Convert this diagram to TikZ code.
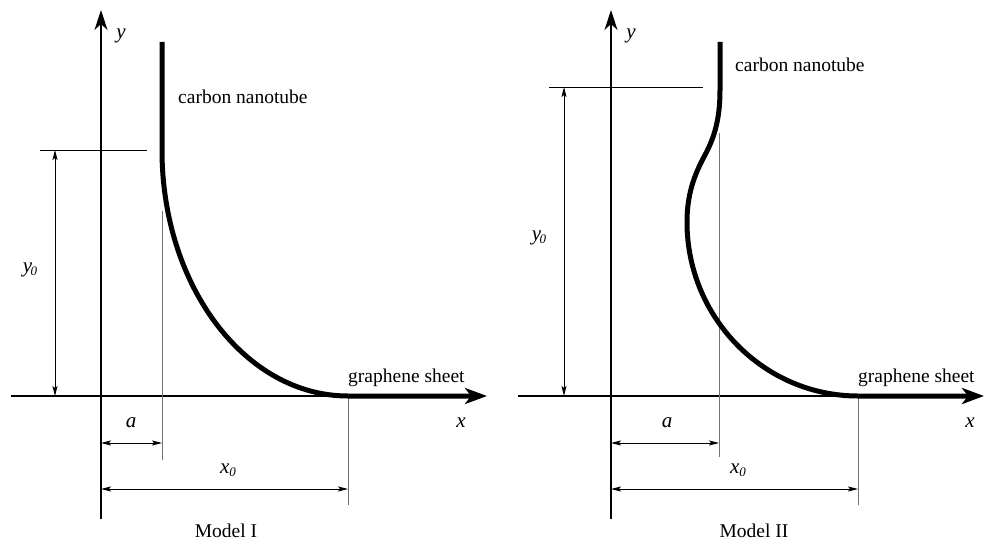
\documentclass[tikz,border=0pt]{standalone}
\usepackage{fontspec}
\setmainfont{Liberation Serif}
\usetikzlibrary{arrows.meta}
\tikzset{
  axisline/.style={line width=1.3pt, -{Stealth[length=20pt,width=13pt,inset=6pt]}},
  thinaxis/.style={line width=1.3pt},
  tube/.style={line width=5pt, line join=round, -{Stealth[length=22pt,width=16pt,inset=6pt]}},
  dimline/.style={line width=0.9pt, {Stealth[length=10pt,width=5pt,inset=2pt]}-{Stealth[length=10pt,width=5pt,inset=2pt]}},
  refline/.style={line width=0.9pt},
  extline/.style={line width=1pt, draw=black!55},
  txt/.style={font=\fontsize{19.5}{23}\selectfont, inner sep=0pt},
  itxt/.style={font=\fontsize{21}{24}\selectfont\itshape, inner sep=0pt},
}
\newcommand{\subz}{\raisebox{-3pt}{\fontsize{13}{13}\selectfont\itshape 0}}
\begin{document}
\begin{tikzpicture}[x=1pt,y=-1pt]
\useasboundingbox (0,0) rectangle (985,543);
% ---------------- Model I ----------------
\coordinate (Ayb) at (101,519);
\coordinate (Ayt) at (101,10);
\coordinate (Axl) at (11,396);
\coordinate (Ax0) at (348,396);
\coordinate (Atip) at (487,396);
\coordinate (Atop) at (162,42);
\coordinate (Abend) at (162,150);
\coordinate (Ahl) at (40,150);
\coordinate (Ahr) at (147,150);
\coordinate (Ady1) at (55,150);
\coordinate (Ady2) at (55,396);
\coordinate (Aea1) at (162,211);
\coordinate (Aea2) at (162,460);
\coordinate (Aex2) at (348,505);
\coordinate (Aa1) at (101,443);
\coordinate (Aa2) at (162,443);
\coordinate (Ab1) at (101,489);
\coordinate (Ab2) at (348,489);

\draw[thinaxis] (Axl) -- (Ax0);
\draw[axisline] (Ayb) -- (Ayt);
\draw[extline] (Aea1) -- (Aea2);
\draw[extline] (Ax0) -- (Aex2);
\draw[refline] (Ahl) -- (Ahr);
\draw[dimline] (Ady1) -- (Ady2);
\draw[dimline] (Aa1) -- (Aa2);
\draw[dimline] (Ab1) -- (Ab2);
\draw[tube] (Atop) -- (Abend) .. controls (162,286) and (245,396) .. (Ax0) -- (Atip);

\node[txt, anchor=base west] (Acnt) at (178,103) {carbon nanotube};
\node[txt, anchor=base west] (Ags) at (348,382) {graphene sheet};
\node[itxt, anchor=base] (Ay) at (121,38.5) {y};
\node[itxt, anchor=base] (Ax) at (461,427) {x};
\node[itxt, anchor=base] (Aa) at (131,427) {a};
\node[itxt, anchor=base] (Ax0l) at (228,473) {x\subz};
\node[itxt, anchor=base] (Ay0l) at (30,272) {y\kern-1.5pt\subz};
\node[txt, anchor=base] (Amodel) at (226,537) {Model I};

% ---------------- Model II ----------------
\coordinate (Byb) at (611,519);
\coordinate (Byt) at (611,10);
\coordinate (Bxl) at (518,396);
\coordinate (Bx0) at (858,396);
\coordinate (Btip) at (984,396);
\coordinate (Btop) at (720,42);
\coordinate (Bbend) at (720,90);
\coordinate (Bkink) at (705,155);
\coordinate (Bleft) at (687,222);
\coordinate (Bhl) at (549,87);
\coordinate (Bhr) at (703,87);
\coordinate (Bdy1) at (564,87);
\coordinate (Bdy2) at (564,396);
\coordinate (Bea1) at (719,133);
\coordinate (Bea2) at (719,457);
\coordinate (Bex2) at (858,505);
\coordinate (Ba1) at (611,443);
\coordinate (Ba2) at (719,443);
\coordinate (Bb1) at (611,489);
\coordinate (Bb2) at (858,489);

\draw[thinaxis] (Bxl) -- (Bx0);
\draw[axisline] (Byb) -- (Byt);
\draw[extline] (Bea1) -- (Bea2);
\draw[extline] (Bx0) -- (Bex2);
\draw[refline] (Bhl) -- (Bhr);
\draw[dimline] (Bdy1) -- (Bdy2);
\draw[dimline] (Ba1) -- (Ba2);
\draw[dimline] (Bb1) -- (Bb2);
\draw[tube] (Btop) -- (Bbend) .. controls (720,120) and (714,138) .. (Bkink)
  .. controls (694,175) and (687,195) .. (Bleft)
  .. controls (687,318) and (764,396) .. (Bx0) -- (Btip);

\node[txt, anchor=base west] (Bcnt) at (735,72) {carbon nanotube};
\node[txt, anchor=base west] (Bgs) at (858,382) {graphene sheet};
\node[itxt, anchor=base] (By) at (631,38.5) {y};
\node[itxt, anchor=base] (Bx) at (970,427) {x};
\node[itxt, anchor=base] (Ba) at (667,427) {a};
\node[itxt, anchor=base] (Bx0l) at (738,473) {x\subz};
\node[itxt, anchor=base] (By0l) at (539,240) {y\kern-1.5pt\subz};
\node[txt, anchor=base] (Bmodel) at (754,537) {Model II};
\end{tikzpicture}
\end{document}
